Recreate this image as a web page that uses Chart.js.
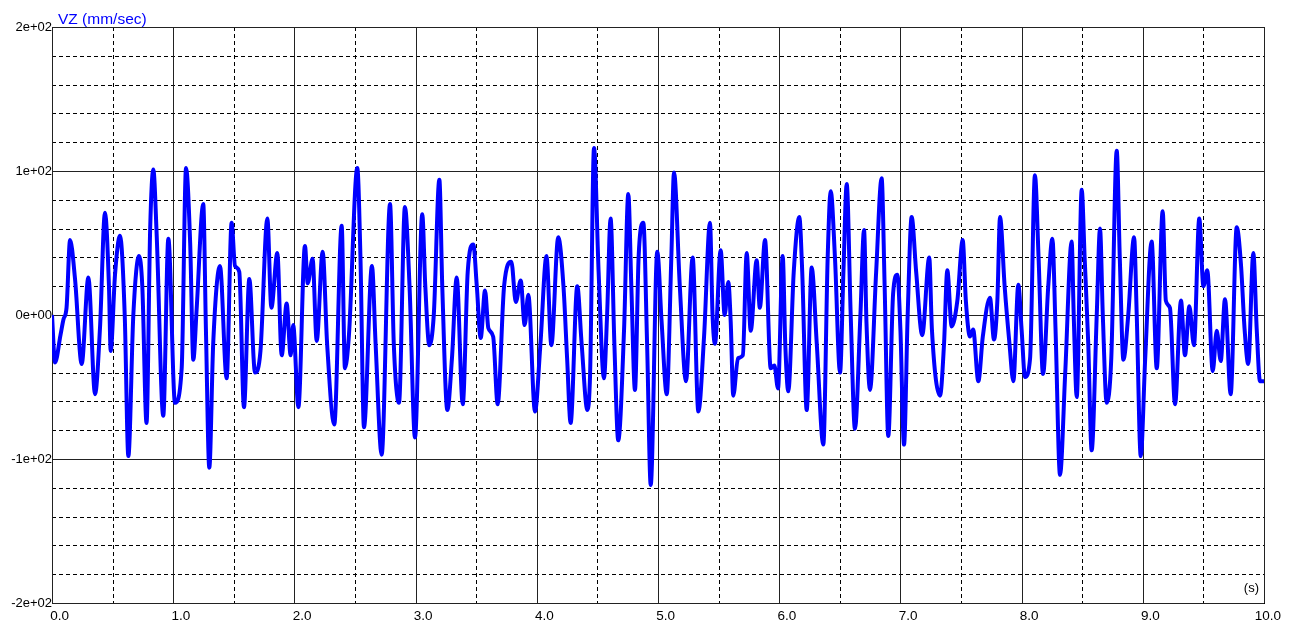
<!DOCTYPE html>
<html><head><meta charset="utf-8">
<script src="https://cdn.jsdelivr.net/npm/chart.js@4/dist/chart.umd.min.js"></script>
<style>html,body{margin:0;padding:0;background:#fff;overflow:hidden}#wrap{position:relative;width:1298px;height:625px}</style>
</head><body><div id="wrap"><canvas id="c" width="1298" height="625"></canvas></div>
<script>
// time axis (s)
const timeS = [
0.00,0.025,0.07,0.095,0.12,0.149,0.19,0.245,0.30,0.355,0.396,0.437,0.47,0.484,0.52,0.561,0.60,0.63,0.671,0.718,0.745,0.78,0.81,0.836,0.864,0.918,0.96,
1.015,1.07,1.106,1.14,1.166,1.194,1.248,1.27,1.298,1.33,1.386,1.441,1.482,1.51,1.545,1.584,1.628,1.675,1.72,1.777,1.81,1.859,1.895,1.936,1.969,1.99,
2.033,2.087,2.11,2.15,2.184,2.233,2.27,2.329,2.39,2.417,2.45,2.519,2.545,2.574,2.64,2.67,2.72,2.789,2.82,2.863,2.912,2.95,2.995,
3.055,3.08,3.113,3.15,3.196,3.22,3.262,3.30,3.339,3.389,3.43,3.476,3.505,3.537,3.573,3.60,3.64,3.677,3.73,3.79,3.827,3.867,3.90,3.93,3.985,
4.03,4.08,4.12,4.177,4.22,4.25,4.279,4.334,4.37,4.417,4.44,4.472,4.51,4.554,4.58,4.609,4.64,4.672,4.72,4.755,4.78,4.81,4.84,4.879,4.91,4.94,4.994,
5.03,5.072,5.11,5.132,5.18,5.231,5.286,5.333,5.38,5.429,5.45,5.47,5.517,5.55,5.58,5.60,5.621,5.66,5.70,5.732,5.765,5.814,5.84,5.883,5.93,5.96,5.99,
6.029,6.05,6.075,6.12,6.166,6.19,6.227,6.268,6.31,6.364,6.40,6.425,6.46,6.502,6.53,6.557,6.59,6.625,6.67,6.70,6.72,6.749,6.80,6.845,6.87,6.90,6.94,6.975,
7.00,7.03,7.06,7.093,7.13,7.18,7.238,7.26,7.327,7.36,7.387,7.423,7.47,7.514,7.54,7.574,7.60,7.643,7.68,7.739,7.772,7.80,7.822,7.86,7.90,7.932,7.973,
8.00,8.028,8.07,8.11,8.14,8.177,8.22,8.254,8.28,8.317,8.36,8.413,8.43,8.455,8.496,8.52,8.55,8.578,8.62,8.647,8.67,8.702,8.74,8.785,8.81,8.84,8.88,8.928,8.95,8.983,
9.02,9.073,9.115,9.164,9.19,9.224,9.266,9.315,9.348,9.384,9.422,9.466,9.50,9.532,9.577,9.61,9.643,9.678,9.725,9.775,9.81,9.84,9.87,9.912,9.94,9.967,10.0
];
// vertical velocity (mm/sec)
const vzMmSec = [
0,-33,-14,-3,5,52,25,-34,26,-55,-9,71,20,-25,28,55,0,-98,0,41,20,-75,60,101,55,-70,53,
-61,-37,102,50,-31,5,77,-10,-106,-20,34,-44,64,34,30,-64,25,-40,-25,67,5,43,-28,8,-28,-7,
-64,48,22,39,-18,44,-20,-76,62,-37,-14,102,40,-78,34,-20,-97,77,-20,-61,75,20,-85,
70,20,-21,0,94,20,-66,-30,26,-62,30,49,20,-16,17,-9,-15,-62,20,37,9,24,-7,14,-67,
-20,41,-21,54,20,-30,-75,20,-20,-66,-40,116,30,-44,0,67,-20,-87,-10,84,20,-52,40,64,-20,-118,44,
-5,-55,40,99,20,-46,40,-67,-15,64,0,-20,45,0,23,-5,-56,-30,-28,43,-11,38,5,52,-37,-35,-51,
41,-20,-53,30,68,30,-66,33,-20,-90,40,86,40,-40,30,91,0,-79,0,59,-5,-52,30,95,20,-84,15,28,
-10,-90,0,68,30,-14,40,-10,-56,-20,31,-8,10,52,10,-15,-10,-46,-15,12,-17,10,68,20,-20,-46,21,
-10,-43,-30,97,40,-41,20,53,-10,-111,-40,51,0,-57,87,40,-20,-94,0,60,0,-61,-30,114,40,-31,0,54,0,-98,
-30,51,-37,72,10,5,-62,10,-28,6,-21,67,20,31,-39,-11,-32,11,-55,61,35,-10,-34,43,-10,-46,-46
];
const xTickValues = [0,1,2,3,4,5,6,7,8,9,10];
const yTickValues = [-200,-100,0,100,200];
const xMinorStep = 0.5;
const yMinorStep = 20;
const seriesLabel = 'VZ (mm/sec)';
const xUnitLabel = '(s)';

const points = timeS.map((t, i) => ({ x: t, y: vzMmSec[i] }));

function fmtExp(v) {
  if (v === 0) return '0e+00';
  const e = Math.floor(Math.log10(Math.abs(v)) + 1e-9);
  const m = Math.round(v / Math.pow(10, e));
  const es = (e < 0 ? '-' : '+') + String(Math.abs(e)).padStart(2, '0');
  return m + 'e' + es;
}

const FONT = '"Liberation Sans", Arial, sans-serif';

const gridPlugin = {
  id: 'mixedGrid',
  beforeDatasetsDraw(chart) {
    const { ctx, chartArea: a, scales: { x, y } } = chart;
    ctx.save();
    ctx.lineWidth = 1;
    ctx.strokeStyle = '#000';
    ctx.setLineDash([4, 3]);
    for (let v = x.min + xMinorStep; v < x.max; v += xMinorStep) {
      if (Math.abs(v - Math.round(v)) < 1e-6) continue;
      const px = Math.round(x.getPixelForValue(v)) + 0.5;
      ctx.beginPath(); ctx.moveTo(px, a.top); ctx.lineTo(px, a.bottom); ctx.stroke();
    }
    for (let v = y.min + yMinorStep; v < y.max; v += yMinorStep) {
      if (Math.abs(v % 100) < 1e-6) continue;
      const py = Math.round(y.getPixelForValue(v)) + 0.5;
      ctx.beginPath(); ctx.moveTo(a.left, py); ctx.lineTo(a.right, py); ctx.stroke();
    }
    ctx.setLineDash([]);
    ctx.strokeStyle = '#222';
    xTickValues.forEach(v => {
      const px = Math.round(x.getPixelForValue(v)) + 0.5;
      ctx.beginPath(); ctx.moveTo(px, a.top); ctx.lineTo(px, a.bottom); ctx.stroke();
    });
    yTickValues.forEach(v => {
      const py = Math.round(y.getPixelForValue(v)) + 0.5;
      ctx.beginPath(); ctx.moveTo(a.left, py); ctx.lineTo(a.right, py); ctx.stroke();
    });
    ctx.restore();
  },
  afterDraw(chart) {
    const { ctx, chartArea: a } = chart;
    ctx.save();
    ctx.font = '15.5px ' + FONT;
    ctx.fillStyle = '#0000ff';
    ctx.textAlign = 'left';
    ctx.textBaseline = 'alphabetic';
    ctx.fillText(seriesLabel, a.left + 6, a.top - 3);
    ctx.font = '13px ' + FONT;
    ctx.fillStyle = '#000';
    ctx.textAlign = 'right';
    ctx.fillText(xUnitLabel, a.right - 5, a.bottom - 11);
    ctx.restore();
  }
};

new Chart(document.getElementById('c'), {
  type: 'line',
  data: {
    datasets: [{
      data: points,
      borderColor: '#0000ff',
      borderWidth: 4,
      pointRadius: 0,
      cubicInterpolationMode: 'monotone',
      fill: false
    }]
  },
  options: {
    responsive: false,
    animation: false,
    devicePixelRatio: 1,
    layout: { padding: { top: 27, right: 34, left: 0, bottom: 0 } },
    plugins: { legend: { display: false }, tooltip: { enabled: false } },
    scales: {
      x: {
        type: 'linear', min: 0, max: 10,
        afterFit: s => { s.height = 22; },
        afterBuildTicks: s => { s.ticks = xTickValues.map(v => ({ value: v })); },
        ticks: { callback: v => v.toFixed(1), color: '#000', font: { family: FONT, size: 13.5 }, padding: 5, align: 'end', labelOffset: 17, maxRotation: 0, autoSkip: false },
        grid: { display: false, drawTicks: false },
        border: { display: true, color: '#000', width: 1 }
      },
      y: {
        type: 'linear', min: -200, max: 200,
        afterFit: s => { s.width = 52; },
        afterBuildTicks: s => { s.ticks = yTickValues.map(v => ({ value: v })); },
        ticks: { callback: v => fmtExp(v), color: '#000', font: { family: FONT, size: 13 }, padding: 0 },
        grid: { display: false, drawTicks: false },
        border: { display: true, color: '#000', width: 1 }
      }
    }
  },
  plugins: [gridPlugin]
});
</script></body></html>
